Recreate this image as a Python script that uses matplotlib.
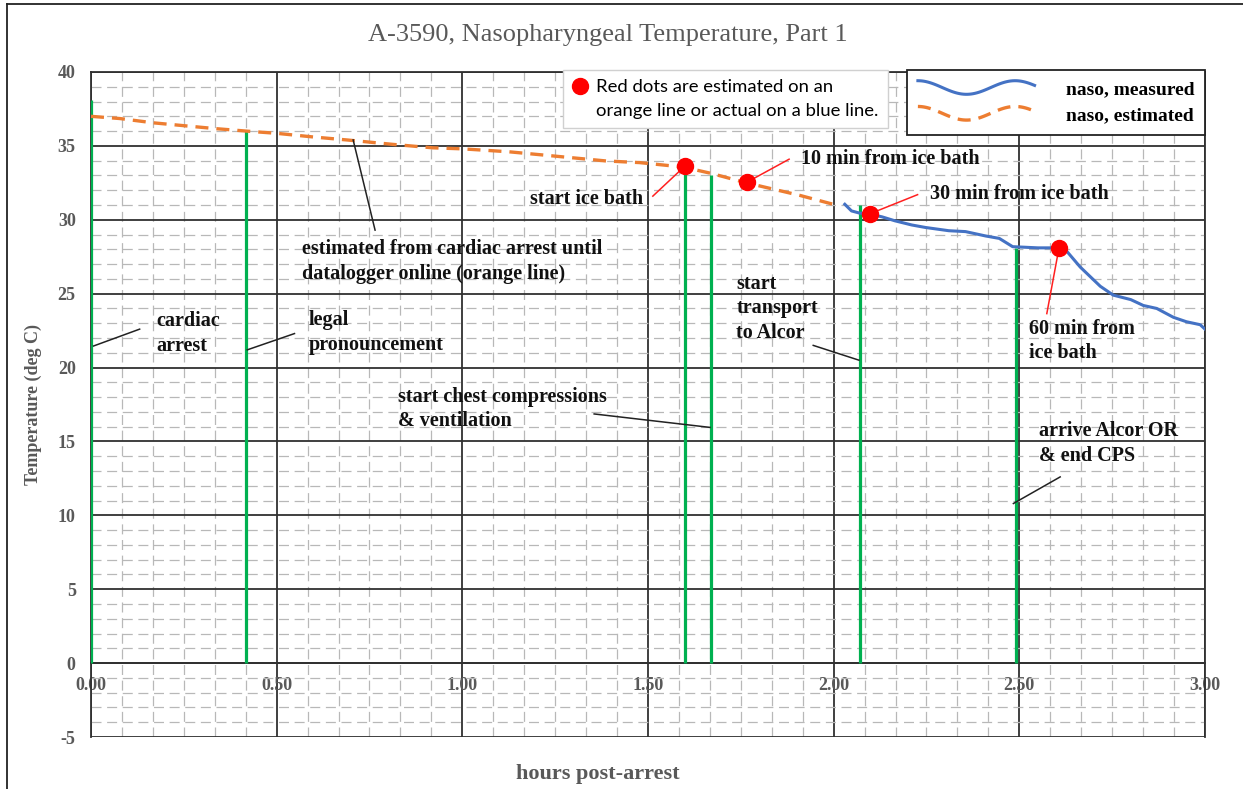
import numpy as np
import matplotlib
matplotlib.use('Agg')
import matplotlib.pyplot as plt
from matplotlib.ticker import MultipleLocator, FormatStrFormatter
from matplotlib.lines import Line2D
from matplotlib.legend_handler import HandlerLine2D

plt.rcParams['axes.unicode_minus'] = False

#=======================
# Data
est_hours = [0.0, 0.078, 0.168, 0.33, 0.419, 0.5, 0.6, 0.69, 0.814, 0.92, 1.0, 1.126,
             1.261, 1.387, 1.477, 1.594, 1.67, 1.765, 1.909, 2.0]
est_temps = [37.0, 36.85, 36.56, 36.18, 36.0, 35.85, 35.6, 35.4, 35.1, 34.87, 34.8, 34.6,
             34.28, 33.98, 33.87, 33.57, 33.14, 32.5, 31.65, 31.04]

meas_hours = [2.03, 2.048, 2.07, 2.098, 2.13, 2.165, 2.21, 2.247, 2.31, 2.355, 2.41, 2.446,
              2.482, 2.55, 2.62, 2.664, 2.718, 2.753, 2.80, 2.834, 2.87, 2.915, 2.95,
              2.987, 3.0]
meas_temps = [31.05, 30.6, 30.45, 30.38, 30.2, 29.93, 29.65, 29.48, 29.26, 29.2, 28.9, 28.74,
              28.18, 28.1, 28.1, 26.8, 25.5, 24.9, 24.6, 24.2, 24.0, 23.4, 23.1, 22.9, 22.6]

# green event markers (hours, height of the bar)
event_hours = [0.0, 0.417, 1.60, 1.67, 2.07, 2.49]
event_tops = [38.1, 36.0, 33.5, 33.0, 31.0, 28.1]

# red dots
dot_hours = [1.60, 1.767, 2.097, 2.607]
dot_temps = [33.65, 32.55, 30.4, 28.12]
dot_labels = ['start ice bath', '10 min from ice bath', '30 min from ice bath', '60 min from\nice bath']

event_labels = ['cardiac\narrest', 'legal\npronouncement',
                'estimated from cardiac arrest until\ndatalogger online (orange line)',
                'start chest compressions\n& ventilation', 'start\ntransport\nto Alcor',
                'arrive Alcor OR\n& end CPS']

y_ticks = list(range(-5, 41, 5))

#=========================================
# Label placement: text xy, ha, leader start, leader end
black_notes = [
    ((0.177, 22.3), 'left', (0.131, 22.6), (0.007, 21.46)),
    ((0.586, 22.35), 'left', (0.548, 22.3), (0.421, 21.2)),
    ((0.567, 27.2), 'left', (0.765, 29.3), (0.706, 35.4)),
    ((0.826, 17.2), 'left', (1.355, 16.86), (1.667, 15.95)),
    ((1.738, 24.0), 'left', (1.945, 21.5), (2.068, 20.5)),
    ((2.554, 14.85), 'left', (2.61, 12.6), (2.484, 10.8)),
]
red_notes = [
    ((1.486, 31.4), 'right', (1.513, 31.6)),
    ((1.912, 34.14), 'left', (1.88, 34.1)),
    ((2.259, 31.73), 'left', (2.226, 31.7)),
    ((2.526, 21.8), 'left', (2.574, 23.65)),
]

GRAY = '#595959'
SERIF = 'Liberation Serif'
NOTE_SIZE = 14.5

#======================
# Wavy legend swatches
class WavyLine(HandlerLine2D):
    def create_artists(self, legend, orig_handle, xdescent, ydescent,
                       width, height, fontsize, trans):
        t = np.linspace(0, 1, 60)
        xs = t * width - xdescent
        ys = (height / 2 - ydescent) + 0.5 * height * np.cos(2.4 * np.pi * t)
        line = Line2D(xs, ys)
        self.update_prop(line, orig_handle, legend)
        line.set_transform(trans)
        return [line]

#===========
# The figure
fig = plt.figure(figsize=(12.43, 7.89), dpi=100)
ax = fig.add_axes([91/1243, 52/789, 1114/1243, 665/789])

ax.set_xlim(0, 3)
ax.set_ylim(-5, 40)
ax.xaxis.set_major_locator(MultipleLocator(0.5))
ax.xaxis.set_minor_locator(MultipleLocator(1/12))
ax.xaxis.set_major_formatter(FormatStrFormatter('%.2f'))
ax.set_yticks(y_ticks)
ax.yaxis.set_minor_locator(MultipleLocator(1))

ax.set_axisbelow(True)
ax.grid(which='major', color='#303030', lw=1.3)
ax.grid(which='minor', color='#b8b8b8', lw=0.9, ls=(0, (8, 4.5)))
for s in ax.spines.values():
    s.set_color('#303030')
    s.set_linewidth(1.3)
ax.spines['bottom'].set_position(('data', 0))

ax.tick_params(which='both', length=0)
ax.tick_params(axis='y', pad=11)
ax.tick_params(axis='x', pad=10)
for lab in ax.get_xticklabels() + ax.get_yticklabels():
    lab.set_fontfamily(SERIF)
    lab.set_fontweight('bold')
    lab.set_fontsize(13)
    lab.set_color(GRAY)

ax.set_ylabel('Temperature (deg C)', fontfamily=SERIF, fontweight='bold', fontsize=13, color=GRAY)
ax.yaxis.set_label_coords(-0.044, 0.5)
ax.set_xlabel('hours post-arrest', fontfamily=SERIF, fontweight='bold', fontsize=16, color=GRAY)
ax.xaxis.set_label_coords(0.455, -0.04)

# green event lines
ax.vlines(event_hours, 0, event_tops, color='#00b050', lw=2.3, zorder=3)

# series
ax.plot(est_hours, est_temps, color='#ed7d31', lw=2.4, ls=(0, (3.9, 2.4)), zorder=4,
        label='naso, estimated')
ax.plot(meas_hours, meas_temps, color='#4472c4', lw=2.2, zorder=4, label='naso, measured')

# leader lines and labels
for (txy, ha, p0, p1), text in zip(black_notes, event_labels):
    ax.plot([p0[0], p1[0]], [p0[1], p1[1]], color='#222222', lw=1.1, zorder=5)
    ax.text(txy[0], txy[1], text, ha=ha, va='center', fontfamily=SERIF, fontweight='bold',
            fontsize=NOTE_SIZE, linespacing=1.32, color='#111111', zorder=6)

for (txy, ha, p0), text, dx, dy in zip(red_notes, dot_labels, dot_hours, dot_temps):
    ax.plot([p0[0], dx], [p0[1], dy], color='#ff2020', lw=1.1, zorder=5)
    ax.text(txy[0], txy[1], text, ha=ha, va='center', fontfamily=SERIF, fontweight='bold',
            fontsize=NOTE_SIZE, linespacing=1.32, color='#111111', zorder=6)

ax.plot(dot_hours, dot_temps, 'o', color='#ff0000', ms=11.5, zorder=7)

#=========
# Legends
h_meas = Line2D([], [], color='#4472c4', lw=2.2)
h_est = Line2D([], [], color='#ed7d31', lw=2.4, ls=(0, (3.9, 2.4)))
leg1 = ax.legend([h_meas, h_est], ['naso, measured', 'naso, estimated'],
                 handler_map={Line2D: WavyLine()}, loc='upper right',
                 bbox_to_anchor=(1.0, 1.003), borderaxespad=0, fancybox=False,
                 edgecolor='#222222', framealpha=1, handlelength=6.0, handletextpad=1.6,
                 labelspacing=0.42, borderpad=0.55,
                 prop=dict(family=SERIF, weight='bold', size=14))
leg1.get_frame().set_linewidth(1.3)
ax.add_artist(leg1)

h_dot = Line2D([], [], marker='o', ls='none', color='#ff0000', ms=11.5)
h_none = Line2D([], [], ls='none')
leg2 = ax.legend([h_dot, h_none], ['Red dots are estimated on an',
                                   'orange line or actual on a blue line.'],
                 loc='upper left', bbox_to_anchor=((563 - 91) / 1114, 1.003), borderaxespad=0,
                 fancybox=False, edgecolor='#d0d0d0', framealpha=1, handlelength=0.8,
                 handletextpad=0.5, borderpad=0.5, labelspacing=0.4,
                 prop=dict(family='Lato', size=13.3))
leg2.get_frame().set_linewidth(1.0)

#=======
# Title and outer frame
fig.text(608/1243, 1 - 35/789, 'A-3590, Nasopharyngeal Temperature, Part 1',
         ha='center', va='center', fontfamily=SERIF, fontsize=19, color=GRAY)
fig.add_artist(Line2D([7/1243, 7/1243], [0, 1 - 4/789], color='#222222', lw=1.3))
fig.add_artist(Line2D([7/1243, 1], [1 - 4/789, 1 - 4/789], color='#222222', lw=1.3))

fig.savefig('out.png', dpi=100, facecolor='white')
